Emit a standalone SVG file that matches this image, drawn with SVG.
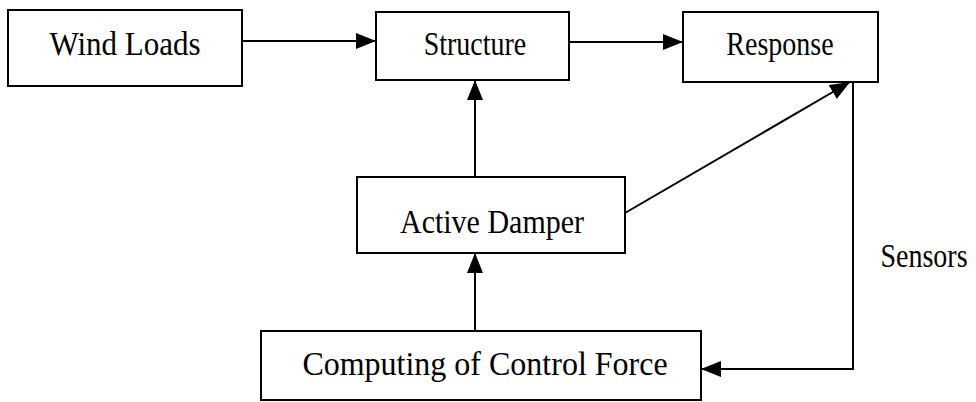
<svg xmlns="http://www.w3.org/2000/svg" width="976" height="402" viewBox="0 0 976 402">
<style>
.box{fill:#fff;stroke:#000;stroke-width:2}
.lbl{font-family:"Liberation Serif","Times New Roman",serif;fill:#000;text-anchor:middle}
.con{fill:none;stroke:#000;stroke-width:2}
</style>
<defs>
<marker id="ah" markerUnits="userSpaceOnUse" markerWidth="22" markerHeight="18" refX="20" refY="8" orient="auto">
<path d="M0,0 L20,8 L0,16 Z" fill="#000"/>
</marker>
</defs>
<rect width="976" height="402" fill="#fff"/>
<g id="connectors">
<line class="con" x1="242" y1="41" x2="376" y2="41" marker-end="url(#ah)"/>
<line class="con" x1="569" y1="42" x2="683" y2="42" marker-end="url(#ah)"/>
<line class="con" x1="475" y1="177" x2="475" y2="80" marker-end="url(#ah)"/>
<line class="con" x1="475" y1="331" x2="475" y2="253" marker-end="url(#ah)"/>
<line class="con" x1="625" y1="213" x2="850" y2="82" marker-end="url(#ah)"/>
<polyline class="con" points="853,82 853,369 701,369" marker-end="url(#ah)"/>
</g>
<g id="wind-loads">
<rect class="box" x="8" y="10" width="234" height="76"/>
<text class="lbl" transform="translate(125,55) scale(1,1.08)" font-size="31">Wind Loads</text>
</g>
<g id="structure">
<rect class="box" x="376" y="12" width="193" height="68"/>
<text class="lbl" transform="translate(475,55) scale(1,1.22)" font-size="28">Structure</text>
</g>
<g id="response">
<rect class="box" x="683" y="12" width="195" height="70"/>
<text class="lbl" transform="translate(780,55) scale(1,1.22)" font-size="28">Response</text>
</g>
<g id="active-damper">
<rect class="box" x="357" y="177" width="268" height="76"/>
<text class="lbl" transform="translate(492,233) scale(1,1.15)" font-size="30">Active Damper</text>
</g>
<g id="computing">
<rect class="box" x="261" y="331" width="440" height="69"/>
<text class="lbl" transform="translate(485,375) scale(1,1.08)" font-size="32">Computing of Control Force</text>
</g>
<g id="sensors-label">
<text class="lbl" transform="translate(924,267) scale(1,1.18)" font-size="28">Sensors</text>
</g>
</svg>
